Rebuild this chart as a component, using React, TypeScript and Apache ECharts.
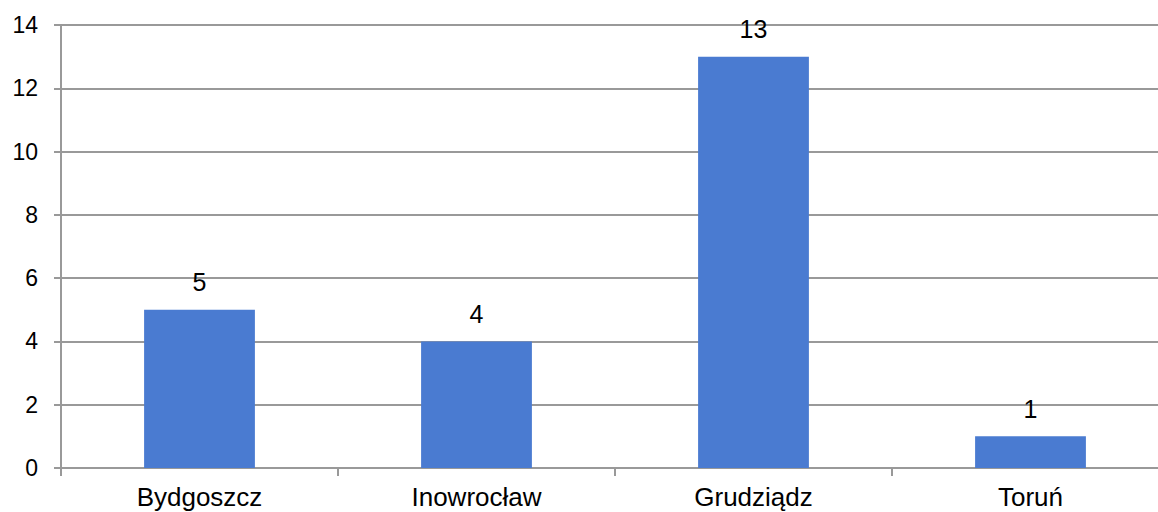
import React, { useEffect, useRef } from "react";
import * as echarts from "echarts";

const categories = ["Bydgoszcz", "Inowrocław", "Grudziądz", "Toruń"];
const values = [5, 4, 13, 1];
const yMin = 0;
const yMax = 14;
const yInterval = 2;

export default function App() {
  const ref = useRef<HTMLDivElement>(null);
  useEffect(() => {
    document.body.style.margin = "0";
    document.body.style.overflow = "hidden";
    document.documentElement.style.overflow = "hidden";
    const chart = echarts.init(ref.current!, null, { renderer: "svg" });
    chart.setOption({
      animation: false,
      backgroundColor: "#ffffff",
      textStyle: { fontFamily: "Liberation Sans, Arial, sans-serif" },
      grid: { left: 61, right: 0, top: 25, bottom: 44, containLabel: false },
      xAxis: {
        type: "category",
        data: categories,
        axisLine: { show: true, lineStyle: { color: "#999999", width: 2 } },
        axisTick: { show: true, length: 8, lineStyle: { color: "#999999", width: 2 } },
        axisLabel: { color: "#000000", fontSize: 26, margin: 16 },
        splitLine: { show: false },
      },
      yAxis: {
        type: "value",
        min: yMin,
        max: yMax,
        interval: yInterval,
        axisLine: { show: true, lineStyle: { color: "#999999", width: 2 } },
        axisTick: { show: true, length: 7, lineStyle: { color: "#999999", width: 2 } },
        axisLabel: { color: "#000000", fontSize: 23, margin: 23 },
        splitLine: { show: true, lineStyle: { color: "#999999", width: 2 } },
      },
      series: [
        {
          type: "bar",
          data: values,
          barWidth: "40%",
          itemStyle: { color: "#4a7bd1" },
          label: {
            show: true,
            position: "top",
            distance: 15,
            color: "#000000",
            fontSize: 25,
          },
        },
      ],
    });
    return () => chart.dispose();
  }, []);
  return <div ref={ref} style={{ width: 1169, height: 512 }} />;
}
